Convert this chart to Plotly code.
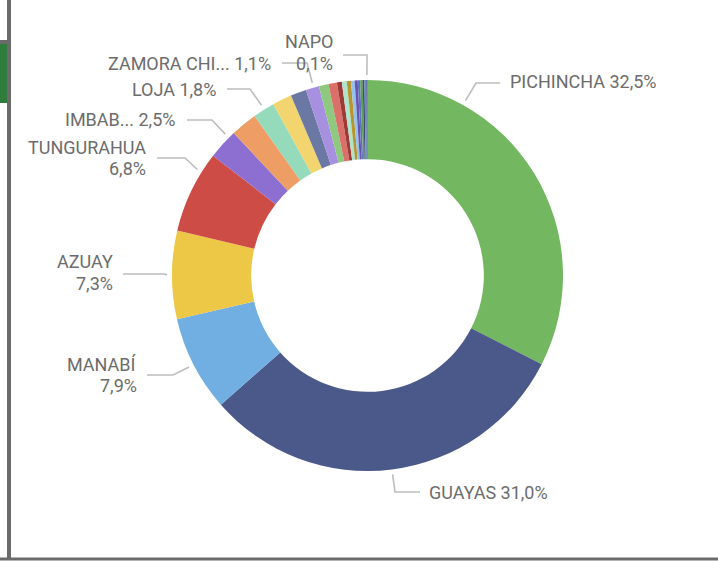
import math
import plotly.graph_objects as go

W, H = 718, 562

# ---------------- data ----------------
provinces = [
    "PICHINCHA", "GUAYAS", "MANABÍ", "AZUAY", "TUNGURAHUA", "IMBABURA",
    "EL ORO", "LOJA", "SANTO DOMINGO", "CHIMBORAZO", "ZAMORA CHINCHIPE",
    "COTOPAXI", "ESMERALDAS", "LOS RÍOS", "CAÑAR", "SANTA ELENA", "CARCHI",
    "SUCUMBÍOS", "ORELLANA", "BOLÍVAR", "MORONA SANTIAGO", "PASTAZA", "NAPO",
]
values = [
    32.5, 31.0, 7.9, 7.3, 6.8, 2.5,
    2.2, 1.8, 1.6, 1.3, 1.1,
    0.8, 0.7, 0.4, 0.4, 0.35, 0.3,
    0.25, 0.2, 0.2, 0.15, 0.15, 0.1,
]
colors = [
    "#73B761", "#4A588A", "#71AFE2", "#ECC846", "#CD4C46", "#8D6FD1",
    "#EE9E64", "#95DABB", "#F2D56E", "#6B78A3", "#A890E0",
    "#8FC97F", "#DB6F6A", "#9E3A36", "#AEE3CC", "#B8962F", "#93C3EC",
    "#6A52B0", "#5C73C0", "#5E9E4E", "#3C4A78", "#5A8FC8", "#3E4F86",
]

# ---------------- label layout (pixel positions of text / elbows) ----------------
# key: (display name, position-within-slice, elbow px, line end px, text x px, text y px list, side, one line)
label_layout = {
    "PICHINCHA":        ("PICHINCHA",     0.25, (476, 83),  (500, 83),  508, [81],         "left",  True),
    "GUAYAS":           ("GUAYAS",        0.50, (395, 492), (420, 492), 427, [492],        "left",  True),
    "MANABÍ":           ("MANABÍ",        0.50, (173, 375), (147, 375), 139, [364, 385.5], "right", False),
    "AZUAY":            ("AZUAY",         0.50, (164, 274), (123, 274), 115, [262, 283.5], "right", False),
    "TUNGURAHUA":       ("TUNGURAHUA",    0.76, (185, 158), (157, 158), 148, [147, 168.5], "right", False),
    "IMBABURA":         ("IMBAB...",      0.78, (212, 120), (187, 120), 177, [120],        "right", True),
    "LOJA":             ("LOJA",          0.52, (250, 89),  (227, 89),  218, [89],         "right", True),
    "ZAMORA CHINCHIPE": ("ZAMORA CHI...", 0.60, (307, 63),  (282, 63),  273, [63],         "right", True),
    "NAPO":             ("NAPO",          0.50, (367, 55),  (343, 55),  335, [42, 63.5],   "right", False),
}

CX, CY, R = 367.5, 275.5, 195.5
R_ANCHOR = R + 5
FONT = "Roboto"
FSIZE = 18
TXT = "#6c6c6c"
LINE = "#bdbdbd"


def px(x):
    return x / W


def py(y):
    return 1 - y / H


fig = go.Figure(go.Pie(
    labels=provinces,
    values=values,
    marker=dict(colors=colors, line=dict(width=0)),
    hole=0.595,
    sort=False,
    direction="clockwise",
    rotation=0,
    textinfo="none",
    showlegend=False,
    domain=dict(x=[px(CX - R), px(CX + R)], y=[py(CY + R), py(CY - R)]),
))

total = sum(values)
cum = 0.0
shapes = []
annotations = []
for name, v in zip(provinces, values):
    if name in label_layout:
        disp, t, elbow, end, tx, tys, side, oneline = label_layout[name]
        frac = (cum + t * v) / total
        th = 2 * math.pi * frac
        ax = CX + R_ANCHOR * math.sin(th)
        ay = CY - R_ANCHOR * math.cos(th)
        shapes.append(dict(
            type="path", xref="paper", yref="paper",
            path=f"M {px(ax)} {py(ay)} L {px(elbow[0])} {py(elbow[1])} L {px(end[0])} {py(end[1])}",
            line=dict(color=LINE, width=1.6),
        ))
        pct = f"{v / total * 100:.1f}".replace(".", ",") + "%"
        texts = [f"{disp} {pct}"] if oneline else [disp, pct]
        for txt, ty in zip(texts, tys):
            annotations.append(dict(
                x=px(tx), y=py(ty), xref="paper", yref="paper",
                text=txt, showarrow=False, xanchor=side, yanchor="middle",
                font=dict(family=FONT, size=FSIZE, color=TXT),
            ))
    cum += v

# frame decorations
shapes += [
    dict(type="rect", xref="paper", yref="paper", x0=px(7), x1=px(11), y0=py(558), y1=1,
         fillcolor="#6b6b6b", line=dict(width=0), layer="above"),
    dict(type="rect", xref="paper", yref="paper", x0=0, x1=1, y0=py(560.5), y1=py(557.5),
         fillcolor="#6b6b6b", line=dict(width=0), layer="above"),
    dict(type="rect", xref="paper", yref="paper", x0=0, x1=px(7), y0=py(44), y1=py(40),
         fillcolor="#6b6b6b", line=dict(width=0), layer="above"),
    dict(type="rect", xref="paper", yref="paper", x0=0, x1=px(7), y0=py(103), y1=py(44),
         fillcolor="#2e7d3a", line=dict(width=0), layer="above"),
]

fig.update_layout(
    width=W, height=H,
    margin=dict(l=0, r=0, t=0, b=0),
    paper_bgcolor="white",
    plot_bgcolor="white",
    shapes=shapes,
    annotations=annotations,
)

fig.write_html(
    "out.html",
    config={"displayModeBar": False},
    post_script="document.body.style.margin='0px';document.body.style.overflow='hidden';",
)
